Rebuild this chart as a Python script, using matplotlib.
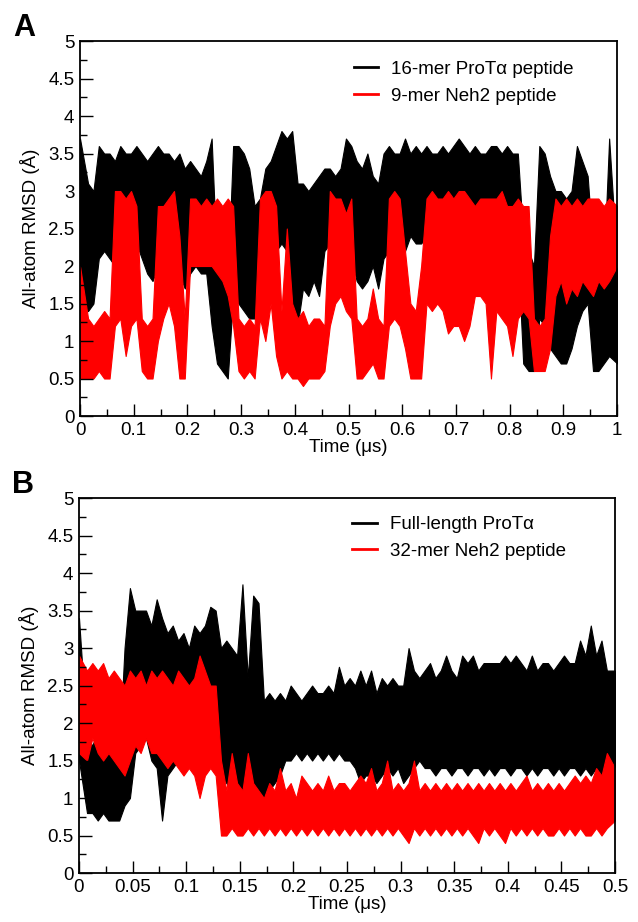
import numpy as np
import matplotlib.pyplot as plt
from matplotlib.ticker import MultipleLocator, FormatStrFormatter

plt.rcParams['font.family'] = ['Liberation Sans', 'DejaVu Sans']

# Panel A: 1 us trajectories, max / min of RMSD in each 0.01 us bin
a_dt = 0.01
a_black_hi = [3.7, 3.1, 3.0, 3.6, 3.5, 3.5, 3.4, 3.6, 3.5, 3.5,
              3.6, 3.5, 3.4, 3.5, 3.6, 3.5, 3.5, 3.4, 3.5, 3.3,
              3.4, 3.3, 3.2, 3.4, 3.7, 2.0, 1.9, 1.8, 3.6, 3.6,
              3.5, 3.3, 2.8, 2.9, 3.3, 3.4, 3.6, 3.8, 3.7, 3.8,
              3.1, 3.1, 3.0, 3.1, 3.2, 3.3, 3.3, 3.2, 3.3, 3.7,
              3.6, 3.4, 3.3, 3.5, 3.2, 3.1, 3.5, 3.6, 3.5, 3.5,
              3.7, 3.5, 3.6, 3.5, 3.6, 3.5, 3.5, 3.6, 3.5, 3.6,
              3.7, 3.6, 3.5, 3.6, 3.5, 3.5, 3.6, 3.6, 3.5, 3.6,
              3.5, 3.5, 2.4, 2.2, 2.0, 3.6, 3.5, 3.2, 3.0, 3.0,
              2.9, 3.0, 3.6, 3.4, 3.2, 2.2, 2.1, 2.0, 3.7, 2.0]
a_black_lo = [1.4, 1.4, 1.5, 2.1, 2.2, 2.1, 2.0, 2.2, 2.1, 2.2,
              2.3, 2.1, 1.9, 1.8, 2.0, 2.2, 2.1, 2.0, 1.9, 1.7,
              1.9, 2.0, 1.9, 1.9, 1.2, 0.7, 0.6, 0.5, 1.6, 1.5,
              1.4, 1.3, 1.3, 1.7, 2.2, 2.1, 2.2, 2.3, 2.2, 1.4,
              1.2, 1.7, 1.6, 1.8, 1.6, 2.2, 2.3, 2.4, 2.4, 2.2,
              2.1, 1.8, 1.7, 1.8, 2.0, 1.7, 2.1, 2.2, 2.3, 2.3,
              2.2, 2.4, 2.3, 2.3, 2.4, 2.3, 2.3, 2.4, 2.3, 2.3,
              2.4, 2.3, 2.3, 2.4, 2.3, 2.3, 2.4, 2.3, 2.3, 2.4,
              2.3, 2.2, 0.7, 0.6, 0.6, 1.3, 1.2, 0.9, 0.8, 0.7,
              0.7, 0.9, 1.2, 1.4, 1.5, 0.6, 0.6, 0.7, 0.8, 0.7]
a_red_hi = [2.0, 1.3, 1.2, 1.3, 1.4, 1.3, 3.0, 3.0, 2.9, 3.0,
            2.8, 1.3, 1.2, 1.3, 2.8, 2.8, 2.9, 3.0, 2.4, 1.3,
            2.9, 2.9, 2.8, 2.9, 2.8, 2.9, 2.8, 2.9, 2.8, 1.3,
            1.2, 1.3, 1.2, 2.9, 3.0, 3.0, 2.8, 1.4, 2.5, 1.5,
            1.3, 1.4, 1.2, 1.3, 1.3, 1.2, 3.0, 2.9, 2.9, 2.7,
            2.9, 1.3, 1.2, 1.3, 1.7, 1.3, 1.2, 2.9, 3.0, 2.9,
            2.2, 1.5, 1.4, 2.0, 2.9, 3.0, 2.9, 2.9, 3.0, 2.9,
            3.0, 3.0, 2.9, 2.8, 2.9, 2.9, 2.9, 2.9, 3.0, 2.8,
            2.8, 2.9, 2.8, 2.8, 1.3, 1.2, 1.3, 2.4, 2.9, 2.8,
            2.9, 2.8, 2.9, 2.8, 2.9, 2.9, 2.9, 2.8, 2.9, 2.8]
a_red_lo = [0.5, 0.5, 0.5, 0.6, 0.5, 0.5, 1.2, 1.3, 0.8, 1.2,
            1.3, 0.6, 0.5, 0.5, 1.0, 1.3, 1.5, 1.2, 0.5, 0.5,
            2.0, 2.0, 2.0, 2.0, 2.0, 1.9, 1.8, 1.6, 1.2, 0.6,
            0.5, 0.6, 0.5, 1.3, 1.0, 1.5, 0.8, 0.5, 0.6, 0.5,
            0.5, 0.4, 0.5, 0.5, 0.5, 0.6, 1.2, 1.5, 1.6, 1.4,
            1.3, 0.5, 0.5, 0.6, 0.7, 0.5, 0.5, 1.2, 1.3, 1.2,
            0.9, 0.5, 0.5, 0.5, 1.5, 1.4, 1.5, 1.4, 1.1, 1.2,
            1.2, 1.0, 1.2, 1.6, 1.6, 1.5, 0.5, 1.4, 1.3, 1.2,
            0.8, 1.3, 1.4, 1.3, 0.6, 0.6, 0.6, 0.9, 1.6, 1.8,
            1.5, 1.7, 1.6, 1.8, 1.7, 1.6, 1.8, 1.7, 1.8, 2.0]

# Panel B: 0.5 us trajectories, max / min in each 0.005 us bin
b_dt = 0.005
b_black_hi = [3.4, 1.8, 1.7, 1.9, 1.7, 1.6, 1.7, 1.6, 3.0, 3.8,
              3.5, 3.5, 3.5, 3.3, 3.65, 3.4, 3.2, 3.3, 3.1, 3.2,
              3.0, 3.3, 3.2, 3.3, 3.55, 3.5, 3.0, 3.1, 3.0, 2.9,
              3.85, 2.6, 3.7, 3.6, 2.3, 2.4, 2.3, 2.4, 2.3, 2.5,
              2.4, 2.3, 2.4, 2.5, 2.4, 2.4, 2.5, 2.4, 2.75, 2.5,
              2.6, 2.5, 2.7, 2.5, 2.7, 2.4, 2.6, 2.5, 2.6, 2.5,
              2.5, 3.0, 2.7, 2.6, 2.7, 2.8, 2.6, 2.7, 2.9, 2.7,
              2.6, 2.9, 2.8, 2.9, 2.7, 2.8, 2.8, 2.8, 2.8, 2.9,
              2.8, 2.9, 2.8, 2.7, 2.9, 2.7, 2.8, 2.8, 2.7, 2.8,
              2.9, 2.8, 2.8, 3.1, 2.9, 3.3, 2.9, 3.1, 2.7, 2.7]
b_black_lo = [1.5, 0.8, 0.8, 0.7, 0.8, 0.7, 0.7, 0.7, 0.9, 1.0,
              1.6, 1.7, 1.8, 1.5, 1.4, 0.7, 1.3, 1.4, 1.5, 1.4,
              1.5, 1.4, 1.5, 1.5, 1.6, 1.5, 1.3, 1.2, 1.1, 1.2,
              1.1, 1.2, 1.2, 1.1, 1.0, 1.1, 1.2, 1.3, 1.5, 1.5,
              1.6, 1.5, 1.6, 1.5, 1.6, 1.5, 1.6, 1.5, 1.6, 1.5,
              1.5, 1.4, 1.2, 1.3, 1.3, 1.2, 1.3, 1.4, 1.3, 1.4,
              1.2, 1.3, 1.4, 1.5, 1.4, 1.4, 1.3, 1.4, 1.4, 1.3,
              1.4, 1.4, 1.3, 1.4, 1.4, 1.3, 1.4, 1.3, 1.4, 1.4,
              1.3, 1.4, 1.4, 1.3, 1.4, 1.3, 1.4, 1.4, 1.3, 1.4,
              1.3, 1.4, 1.4, 1.3, 1.4, 1.3, 1.4, 1.3, 1.4, 1.3]
b_red_hi = [2.9, 2.7, 2.8, 2.7, 2.8, 2.6, 2.7, 2.6, 2.5, 2.7,
            2.6, 2.7, 2.5, 2.7, 2.6, 2.7, 2.6, 2.5, 2.7, 2.6,
            2.5, 2.6, 2.9, 2.7, 2.5, 2.5, 1.5, 1.1, 1.6, 1.2,
            1.1, 1.6, 1.2, 1.1, 1.0, 1.2, 1.1, 1.4, 1.1, 1.2,
            1.0, 1.3, 1.2, 1.1, 1.2, 1.1, 1.3, 1.1, 1.2, 1.2,
            1.1, 1.2, 1.3, 1.2, 1.4, 1.1, 1.2, 1.5, 1.1, 1.2,
            1.1, 1.2, 1.5, 1.1, 1.2, 1.1, 1.2, 1.1, 1.2, 1.1,
            1.2, 1.1, 1.2, 1.1, 1.2, 1.1, 1.2, 1.1, 1.2, 1.1,
            1.2, 1.1, 1.2, 1.3, 1.1, 1.2, 1.1, 1.2, 1.1, 1.2,
            1.1, 1.2, 1.3, 1.2, 1.3, 1.2, 1.4, 1.3, 1.6, 1.4]
b_red_lo = [1.6, 1.5, 1.8, 1.6, 1.5, 1.6, 1.5, 1.4, 1.3, 1.5,
            1.7, 1.6, 1.8, 1.6, 1.6, 1.5, 1.4, 1.5, 1.4, 1.3,
            1.4, 1.3, 1.0, 1.3, 1.4, 1.3, 0.5, 0.5, 0.6, 0.5,
            0.5, 0.6, 0.5, 0.6, 0.5, 0.6, 0.5, 0.6, 0.5, 0.6,
            0.5, 0.6, 0.5, 0.6, 0.5, 0.6, 0.5, 0.6, 0.5, 0.6,
            0.5, 0.6, 0.5, 0.6, 0.5, 0.6, 0.5, 0.6, 0.5, 0.6,
            0.5, 0.4, 0.6, 0.5, 0.6, 0.5, 0.6, 0.5, 0.6, 0.5,
            0.6, 0.5, 0.6, 0.5, 0.4, 0.6, 0.5, 0.6, 0.5, 0.4,
            0.6, 0.5, 0.6, 0.5, 0.6, 0.5, 0.6, 0.5, 0.5, 0.6,
            0.5, 0.6, 0.5, 0.6, 0.5, 0.5, 0.6, 0.5, 0.6, 0.7]

labels_a = ['16-mer ProT\u03b1 peptide', '9-mer Neh2 peptide']
labels_b = ['Full-length ProT\u03b1', '32-mer Neh2 peptide']


def trace(ax, dt, hi, lo, color, label):
    # band between the min and max of each bin, drawn at bin centres
    t = (np.arange(len(hi)) + 0.5) * dt
    t[0] = 0
    t[-1] = len(hi) * dt
    ax.fill_between(t, lo, hi, color=color, lw=0.8, edgecolor=color)
    ax.plot([], [], color=color, lw=2, label=label)


def style(ax, xmax, xmaj, xmin, panel, legy):
    ax.set_xlim(0, xmax)
    ax.set_ylim(0, 5)
    ax.xaxis.set_major_locator(MultipleLocator(xmaj))
    ax.xaxis.set_minor_locator(MultipleLocator(xmin))
    ax.yaxis.set_major_locator(MultipleLocator(0.5))
    ax.yaxis.set_minor_locator(MultipleLocator(0.25))
    ax.xaxis.set_major_formatter(FormatStrFormatter('%g'))
    ax.yaxis.set_major_formatter(FormatStrFormatter('%g'))
    ax.tick_params(which='both', direction='in', top=False, right=False,
                   labelsize=13.5, width=1)
    ax.tick_params(which='major', length=9, pad=4)
    ax.tick_params(which='minor', length=5)
    for s in ax.spines.values():
        s.set_linewidth(1.3)
    ax.set_xlabel('Time (\u03bcs)', fontsize=13.5, labelpad=0)
    ax.set_ylabel('All-atom RMSD (\u00c5)', fontsize=13.5, labelpad=6)
    ax.text(-0.125, 1.075, panel, transform=ax.transAxes, fontsize=22,
            fontweight='bold', va='top', ha='left')
    ax.legend(loc='upper left', bbox_to_anchor=(0.51, legy), frameon=False,
              fontsize=13.5, handlelength=1.3, handletextpad=0.7,
              labelspacing=0.5, borderpad=0, borderaxespad=0)


fig = plt.figure(figsize=(6.38, 9.22), dpi=100)
ax1 = fig.add_axes([0.1254, 0.5488, 0.842, 0.4067])
ax2 = fig.add_axes([0.1238, 0.0531, 0.840, 0.4067])

trace(ax1, a_dt, a_black_hi, a_black_lo, 'black', labels_a[0])
trace(ax1, a_dt, a_red_hi, a_red_lo, 'red', labels_a[1])
style(ax1, 1.0, 0.1, 0.05, 'A', 0.947)

trace(ax2, b_dt, b_black_hi, b_black_lo, 'black', labels_b[0])
trace(ax2, b_dt, b_red_hi, b_red_lo, 'red', labels_b[1])
style(ax2, 0.5, 0.05, 0.025, 'B', 0.952)

fig.savefig('out.png', dpi=100)
